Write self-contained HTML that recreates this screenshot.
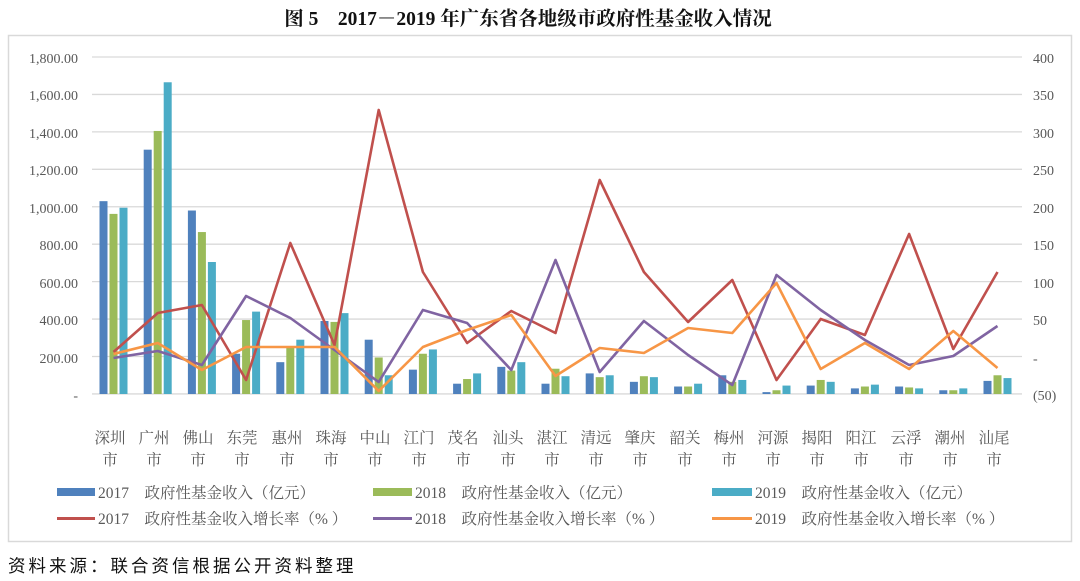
<!DOCTYPE html>
<html><head><meta charset="utf-8"><style>
html,body{margin:0;padding:0;background:#fff;width:1080px;height:581px;overflow:hidden}
svg text{font-family:"Liberation Serif","Noto Serif CJK SC",serif;fill:#595959}
</style></head><body>
<svg id="s" width="1080" height="581" xmlns="http://www.w3.org/2000/svg">
<text x="528" y="25" text-anchor="middle" style="font-family:'Liberation Serif','Noto Serif CJK SC',serif;font-weight:bold;font-size:19.5px;fill:#111">图 5　2017－2019 年广东省各地级市政府性基金收入情况</text>
<rect x="8.5" y="35.5" width="1063" height="506" fill="#fff" stroke="#d9d9d9" stroke-width="1.5"/>
<g id="grid"></g>
<g font-size="14" text-anchor="end">
<text x="78" y="63">1,800.00</text><text x="78" y="100">1,600.00</text><text x="78" y="138">1,400.00</text><text x="78" y="175">1,200.00</text><text x="78" y="213">1,000.00</text><text x="78" y="250">800.00</text><text x="78" y="288">600.00</text><text x="78" y="325">400.00</text><text x="78" y="363">200.00</text><text x="78" y="400">-</text>
</g>
<g font-size="14" text-anchor="start">
<text x="1033" y="63">400</text><text x="1033" y="100">350</text><text x="1033" y="138">300</text><text x="1033" y="175">250</text><text x="1033" y="213">200</text><text x="1033" y="250">150</text><text x="1033" y="288">100</text><text x="1033" y="325">50</text><text x="1033" y="363">-</text><text x="1033" y="400">(50)</text>
</g>
<g id="bars"></g><g id="lines"></g>
<g font-size="15.5" text-anchor="middle" id="cats">
<text x="110" y="443">深圳</text><text x="154" y="443">广州</text><text x="198" y="443">佛山</text><text x="242" y="443">东莞</text><text x="287" y="443">惠州</text><text x="331" y="443">珠海</text><text x="375" y="443">中山</text><text x="419" y="443">江门</text><text x="463" y="443">茂名</text><text x="508" y="443">汕头</text><text x="552" y="443">湛江</text><text x="596" y="443">清远</text><text x="640" y="443">肇庆</text><text x="685" y="443">韶关</text><text x="729" y="443">梅州</text><text x="773" y="443">河源</text><text x="817" y="443">揭阳</text><text x="861" y="443">阳江</text><text x="906" y="443">云浮</text><text x="950" y="443">潮州</text><text x="994" y="443">汕尾</text>
</g>
<g font-size="15.5" text-anchor="middle">
<text x="110" y="465">市</text><text x="154" y="465">市</text><text x="198" y="465">市</text><text x="242" y="465">市</text><text x="287" y="465">市</text><text x="331" y="465">市</text><text x="375" y="465">市</text><text x="419" y="465">市</text><text x="463" y="465">市</text><text x="508" y="465">市</text><text x="552" y="465">市</text><text x="596" y="465">市</text><text x="640" y="465">市</text><text x="685" y="465">市</text><text x="729" y="465">市</text><text x="773" y="465">市</text><text x="817" y="465">市</text><text x="861" y="465">市</text><text x="906" y="465">市</text><text x="950" y="465">市</text><text x="994" y="465">市</text>
</g>
<g font-size="15.5">
<rect x="57" y="488" width="38" height="8" fill="#4f81bd"/><text x="98" y="498">2017　政府性基金收入（亿元）</text>
<rect x="373" y="488" width="39" height="8" fill="#9bbb59"/><text x="415" y="498">2018　政府性基金收入（亿元）</text>
<rect x="712" y="488" width="40" height="8" fill="#4bacc6"/><text x="755" y="498">2019　政府性基金收入（亿元）</text>
<rect x="57" y="517" width="38" height="3" fill="#c0504d"/><text x="98" y="524">2017　政府性基金收入增长率（% ）</text>
<rect x="373" y="517" width="39" height="3" fill="#8064a2"/><text x="415" y="524">2018　政府性基金收入增长率（% ）</text>
<rect x="712" y="517" width="40" height="3" fill="#f79646"/><text x="755" y="524">2019　政府性基金收入增长率（% ）</text>
</g>
<text x="8" y="572" style="font-family:'Liberation Sans','Noto Sans CJK SC',sans-serif;font-size:17.5px;fill:#111;letter-spacing:3px">资料来源：联合资信根据公开资料整理</text>
</svg>
<script>
var NS="http://www.w3.org/2000/svg";
function el(p,t,a){var e=document.createElementNS(NS,t);for(var k in a)e.setAttribute(k,a[k]);document.getElementById(p).appendChild(e);}
for(var i=0;i<10;i++){var y=57+i*37.44;el("grid","line",{x1:92,x2:1022,y1:y,y2:y,stroke:"#d9d9d9","stroke-width":1.3});}
var b=[[1030,962,995],[1305,1405,1665],[980,865,705],[215,395,440],[170,255,290],[390,385,432],[290,195,100],[130,215,238],[55,80,110],[145,125,170],[55,135,95],[110,90,100],[65,95,90],[40,40,55],[100,65,75],[10,20,45],[45,75,65],[30,40,50],[40,35,30],[20,20,30],[70,100,85]];
var cols=["#4f81bd","#9bbb59","#4bacc6"];
function cx(i){return 110.5+i*44.2;}
b.forEach(function(v,i){for(var j=0;j<3;j++){var h=v[j]*337/1800;el("bars","rect",{x:cx(i)-11+j*10,y:394-h,width:8,height:h,fill:cols[j]});}});
var L=[[352,313,305,380,243,345,110,272,343,311,333,180,272,322,280,380,319,335,234,349,272],
[358,351,365,296,318,350,382,310,323,370,260,372,321,355,385,275,310,340,365,356,326],
[354,343,370,347,347,347,391,347,330,315,376,348,353,328,333,283,369,343,369,331,368]];
var lc=["#c0504d","#8064a2","#f79646"];
L.forEach(function(a,k){el("lines","polyline",{points:a.map(function(y,i){return (cx(i)+3)+","+y;}).join(" "),fill:"none",stroke:lc[k],"stroke-width":2.6,"stroke-linejoin":"round"});});
</script>
</body></html>
